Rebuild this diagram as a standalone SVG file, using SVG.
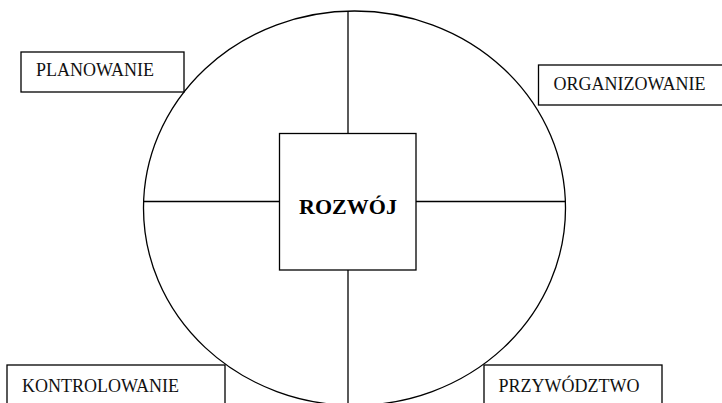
<svg xmlns="http://www.w3.org/2000/svg" width="722" height="403" viewBox="0 0 722 403">
<style>
.ln{stroke:#000;stroke-width:1.3;fill:none}
.bx{stroke:#000;stroke-width:1.3;fill:#fff}
.lbl{font-family:"Liberation Serif","Times New Roman",serif;font-size:18px;fill:#111}
.ctr{font-family:"Liberation Serif","Times New Roman",serif;font-size:22px;font-weight:bold;fill:#000}
</style>
<rect width="722" height="403" fill="#fff"/>
<g id="circle">
<ellipse class="ln" cx="354.5" cy="208.2" rx="211" ry="197.2"/>
</g>
<g id="connectors">
<line class="ln" x1="348" y1="11.1" x2="348" y2="133.5"/>
<line class="ln" x1="348" y1="270" x2="348" y2="404"/>
<line class="ln" x1="143.6" y1="201.5" x2="279.5" y2="201.5"/>
<line class="ln" x1="416" y1="201.5" x2="565.4" y2="201.5"/>
</g>
<g id="rozwoj">
<rect class="bx" x="279.5" y="133.5" width="136.5" height="136.5"/>
<text class="ctr" x="348" y="214" text-anchor="middle">ROZWÓJ</text>
</g>
<g id="planowanie">
<rect class="bx" x="21" y="52" width="163" height="40"/>
<text class="lbl" x="36" y="76">PLANOWANIE</text>
</g>
<g id="organizowanie">
<rect class="bx" x="538.5" y="65" width="186" height="40"/>
<text class="lbl" x="553.5" y="89.5">ORGANIZOWANIE</text>
</g>
<g id="kontrolowanie">
<rect class="bx" x="7" y="365" width="218" height="45"/>
<text class="lbl" x="22" y="392">KONTROLOWANIE</text>
</g>
<g id="przywodztwo">
<rect class="bx" x="484" y="365" width="178" height="45"/>
<text class="lbl" x="498.5" y="392">PRZYWÓDZTWO</text>
</g>
</svg>
